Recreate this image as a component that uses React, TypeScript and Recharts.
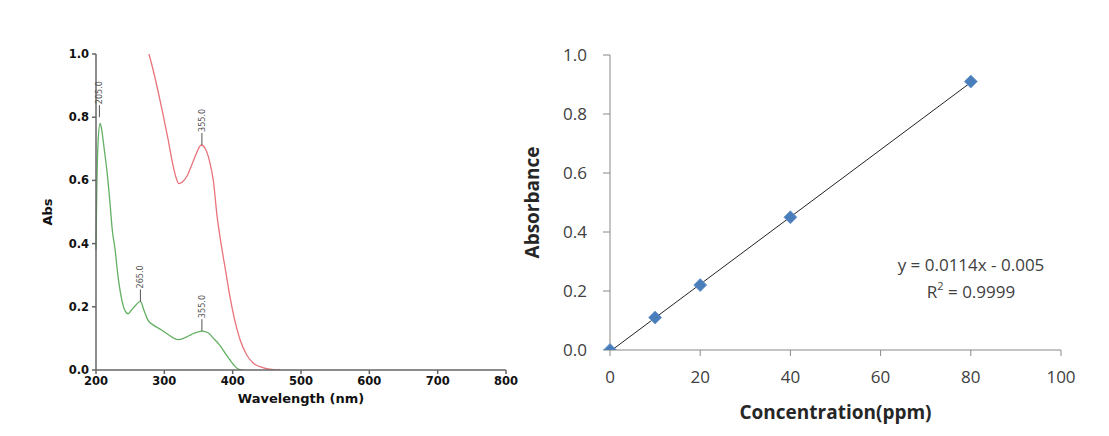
import React from "react";
import {
  ComposedChart,
  Line,
  Scatter,
  XAxis,
  YAxis,
} from "recharts";

// UV-Vis spectrum (left)
const redSpectrum = [
  { x: 277.5, y: 1.0 },
  { x: 283, y: 0.955 },
  { x: 290, y: 0.89 },
  { x: 297, y: 0.82 },
  { x: 305, y: 0.735 },
  { x: 312, y: 0.655 },
  { x: 317, y: 0.61 },
  { x: 321, y: 0.59 },
  { x: 326, y: 0.594 },
  { x: 333, y: 0.613 },
  { x: 340, y: 0.648 },
  { x: 347, y: 0.686 },
  { x: 354, y: 0.712 },
  { x: 360, y: 0.7 },
  { x: 366, y: 0.662 },
  { x: 372, y: 0.595 },
  { x: 377, y: 0.49 },
  { x: 383, y: 0.4 },
  { x: 390, y: 0.31 },
  { x: 396, y: 0.232 },
  { x: 403, y: 0.158 },
  { x: 411, y: 0.095 },
  { x: 420, y: 0.05 },
  { x: 430, y: 0.022 },
  { x: 445, y: 0.007 },
  { x: 460, y: 0.001 },
  { x: 470, y: 0 },
];

const greenSpectrum = [
  { x: 200, y: 0.38 },
  { x: 201, y: 0.55 },
  { x: 203, y: 0.72 },
  { x: 206, y: 0.78 },
  { x: 208, y: 0.765 },
  { x: 212, y: 0.7 },
  { x: 216, y: 0.63 },
  { x: 220, y: 0.54 },
  { x: 224, y: 0.44 },
  { x: 228, y: 0.38 },
  { x: 232, y: 0.3 },
  { x: 237, y: 0.23 },
  { x: 242, y: 0.19 },
  { x: 247, y: 0.178 },
  { x: 252, y: 0.19 },
  { x: 258, y: 0.205 },
  { x: 265, y: 0.217 },
  { x: 270, y: 0.19 },
  { x: 276, y: 0.158 },
  { x: 284, y: 0.142 },
  { x: 295, y: 0.128 },
  { x: 305, y: 0.113 },
  { x: 320, y: 0.096 },
  { x: 330, y: 0.102 },
  { x: 340, y: 0.113 },
  { x: 355, y: 0.123 },
  { x: 364, y: 0.118 },
  { x: 372, y: 0.1 },
  { x: 381, y: 0.079 },
  { x: 390, y: 0.05 },
  { x: 396, y: 0.032 },
  { x: 402, y: 0.015 },
  { x: 408, y: 0.003 },
  { x: 415, y: 0 },
];

const peaks = [
  { x: 205, y: 0.8, label: "205.0" },
  { x: 265, y: 0.217, label: "265.0" },
  { x: 355, y: 0.123, label: "355.0" },
  { x: 355, y: 0.712, label: "355.0" },
];

const wavelengthTicks = [200, 300, 400, 500, 600, 700, 800];
const absTicks = [0, 0.2, 0.4, 0.6, 0.8, 1.0];

// Calibration curve (right)
const calibration = [
  { x: 0, y: 0 },
  { x: 10, y: 0.11 },
  { x: 20, y: 0.22 },
  { x: 40, y: 0.45 },
  { x: 80, y: 0.91 },
];
const trendLine = [
  { x: 0, y: -0.005 },
  { x: 80, y: 0.907 },
];
const concTicks = [0, 20, 40, 60, 80, 100];
const equationText = "y = 0.0114x - 0.005";
const r2Value = "0.9999";

const SPEC_FONT = "'DejaVu Sans', Verdana, sans-serif";
const XL_FONT = "'Open Sans', 'Noto Sans', sans-serif";

function YTitle(props: any) {
  const { viewBox, value, shift = 0, fontSize, fontFamily, fill } = props;
  if (!viewBox) return null;
  const cx = viewBox.x + viewBox.width / 2 + shift;
  const cy = viewBox.y + viewBox.height / 2;
  return (
    <text
      x={cx}
      y={cy}
      transform={`rotate(-90 ${cx} ${cy})`}
      textAnchor="middle"
      dominantBaseline="central"
      fontSize={fontSize}
      fontFamily={fontFamily}
      fontWeight="bold"
      fill={fill}
    >
      {value}
    </text>
  );
}

function XTitle(props: any) {
  const { viewBox, value, shift = 0, fontSize, fontFamily, fill } = props;
  if (!viewBox) return null;
  const cx = viewBox.x + viewBox.width / 2;
  const cy = viewBox.y + shift;
  return (
    <text
      x={cx}
      y={cy}
      textAnchor="middle"
      dominantBaseline="central"
      fontSize={fontSize}
      fontFamily={fontFamily}
      fontWeight="bold"
      fill={fill}
    >
      {value}
    </text>
  );
}

function PeakMark(props: any) {
  const { cx, cy, payload } = props;
  if (cx == null || cy == null) return null;
  const top = cy - 12;
  return (
    <g>
      <line x1={cx} y1={cy} x2={cx} y2={top} stroke="#555" strokeWidth={1} />
      <text
        x={cx}
        y={top - 1}
        transform={`rotate(-90 ${cx} ${top - 1})`}
        textAnchor="start"
        dominantBaseline="central"
        fontSize={9}
        fontFamily="'Liberation Sans Narrow', 'DejaVu Sans Condensed', sans-serif"
        fill="#555"
      >
        {payload.label}
      </text>
    </g>
  );
}

function Diamond(props: any) {
  const { cx, cy } = props;
  if (cx == null || cy == null) return null;
  const r = 6.5;
  return (
    <polygon
      points={`${cx},${cy - r} ${cx + r},${cy} ${cx},${cy + r} ${cx - r},${cy}`}
      fill="#4a7ebb"
      stroke="#6b97cc"
      strokeWidth={0.8}
    />
  );
}

function SpectrumChart() {
  const tickStyle = { fontSize: 11.5, fontWeight: "bold" as const, fill: "#111", fontFamily: SPEC_FONT };
  return (
    <ComposedChart
      width={560}
      height={436}
      margin={{ top: 54, right: 54, bottom: 36, left: 0 }}
    >
      <XAxis
        dataKey="x"
        type="number"
        domain={[200, 800]}
        ticks={wavelengthTicks}
        interval={0}
        stroke="#666"
        strokeWidth={1.5}
        tickSize={4}
        tickMargin={3}
        tick={tickStyle}
        height={30}
        label={<XTitle value="Wavelength (nm)" shift={28} fontSize={13} fontFamily={SPEC_FONT} fill="#111" />}
      />
      <YAxis
        type="number"
        domain={[0, 1]}
        ticks={absTicks}
        interval={0}
        allowDataOverflow
        stroke="#666"
        strokeWidth={1.5}
        tickSize={4}
        tickMargin={3}
        tick={tickStyle}
        tickFormatter={(v: number) => v.toFixed(1)}
        width={96}
        label={<YTitle value="Abs" shift={-1} fontSize={13} fontFamily={SPEC_FONT} fill="#111" />}
      />
      <Line
        data={redSpectrum}
        dataKey="y"
        type="monotone"
        stroke="#e8737b"
        strokeWidth={1.3}
        dot={false}
        isAnimationActive={false}
      />
      <Line
        data={greenSpectrum}
        dataKey="y"
        type="monotone"
        stroke="#62b062"
        strokeWidth={1.3}
        dot={false}
        isAnimationActive={false}
      />
      <Scatter data={peaks} dataKey="y" shape={<PeakMark />} isAnimationActive={false} />
    </ComposedChart>
  );
}

function CalibrationChart() {
  const tickStyle = { fontSize: 17, fill: "#404040", fontFamily: XL_FONT };
  return (
    <ComposedChart
      width={609}
      height={436}
      margin={{ top: 55, right: 48, bottom: 46, left: 0 }}
    >
      <XAxis
        dataKey="x"
        type="number"
        domain={[0, 100]}
        ticks={concTicks}
        interval={0}
        stroke="#888"
        tickSize={6}
        tickMargin={15}
        tick={tickStyle}
        height={40}
        label={<XTitle value="Concentration(ppm)" shift={62} fontSize={19} fontFamily={XL_FONT} fill="#262626" />}
      />
      <YAxis
        type="number"
        domain={[0, 1]}
        ticks={absTicks}
        interval={0}
        allowDataOverflow
        stroke="#888"
        tickSize={7}
        tickMargin={16}
        tick={tickStyle}
        tickFormatter={(v: number) => v.toFixed(1)}
        width={110}
        label={<YTitle value="Absorbance" shift={-23} fontSize={19} fontFamily={XL_FONT} fill="#262626" />}
      />
      <Line
        data={trendLine}
        dataKey="y"
        type="linear"
        stroke="#222"
        strokeWidth={1}
        dot={false}
        isAnimationActive={false}
      />
      <Scatter data={calibration} dataKey="y" shape={<Diamond />} isAnimationActive={false} />
      <text x={471} y={264} textAnchor="middle" dominantBaseline="central" fontSize={17} fontFamily={XL_FONT} fill="#404040">
        {equationText}
      </text>
      <text x={471} y={291} textAnchor="middle" dominantBaseline="central" fontSize={17} fontFamily={XL_FONT} fill="#404040">
        R<tspan dy={-6} fontSize={11}>2</tspan>
        <tspan dy={6}>{" = " + r2Value}</tspan>
      </text>
    </ComposedChart>
  );
}

export default function App() {
  return (
    <div style={{ position: "absolute", left: 0, top: 0, width: 1109, height: 436, background: "#fff" }}>
      <div style={{ position: "absolute", left: 0, top: 0 }}>
        <SpectrumChart />
      </div>
      <div style={{ position: "absolute", left: 500, top: 0 }}>
        <CalibrationChart />
      </div>
    </div>
  );
}
